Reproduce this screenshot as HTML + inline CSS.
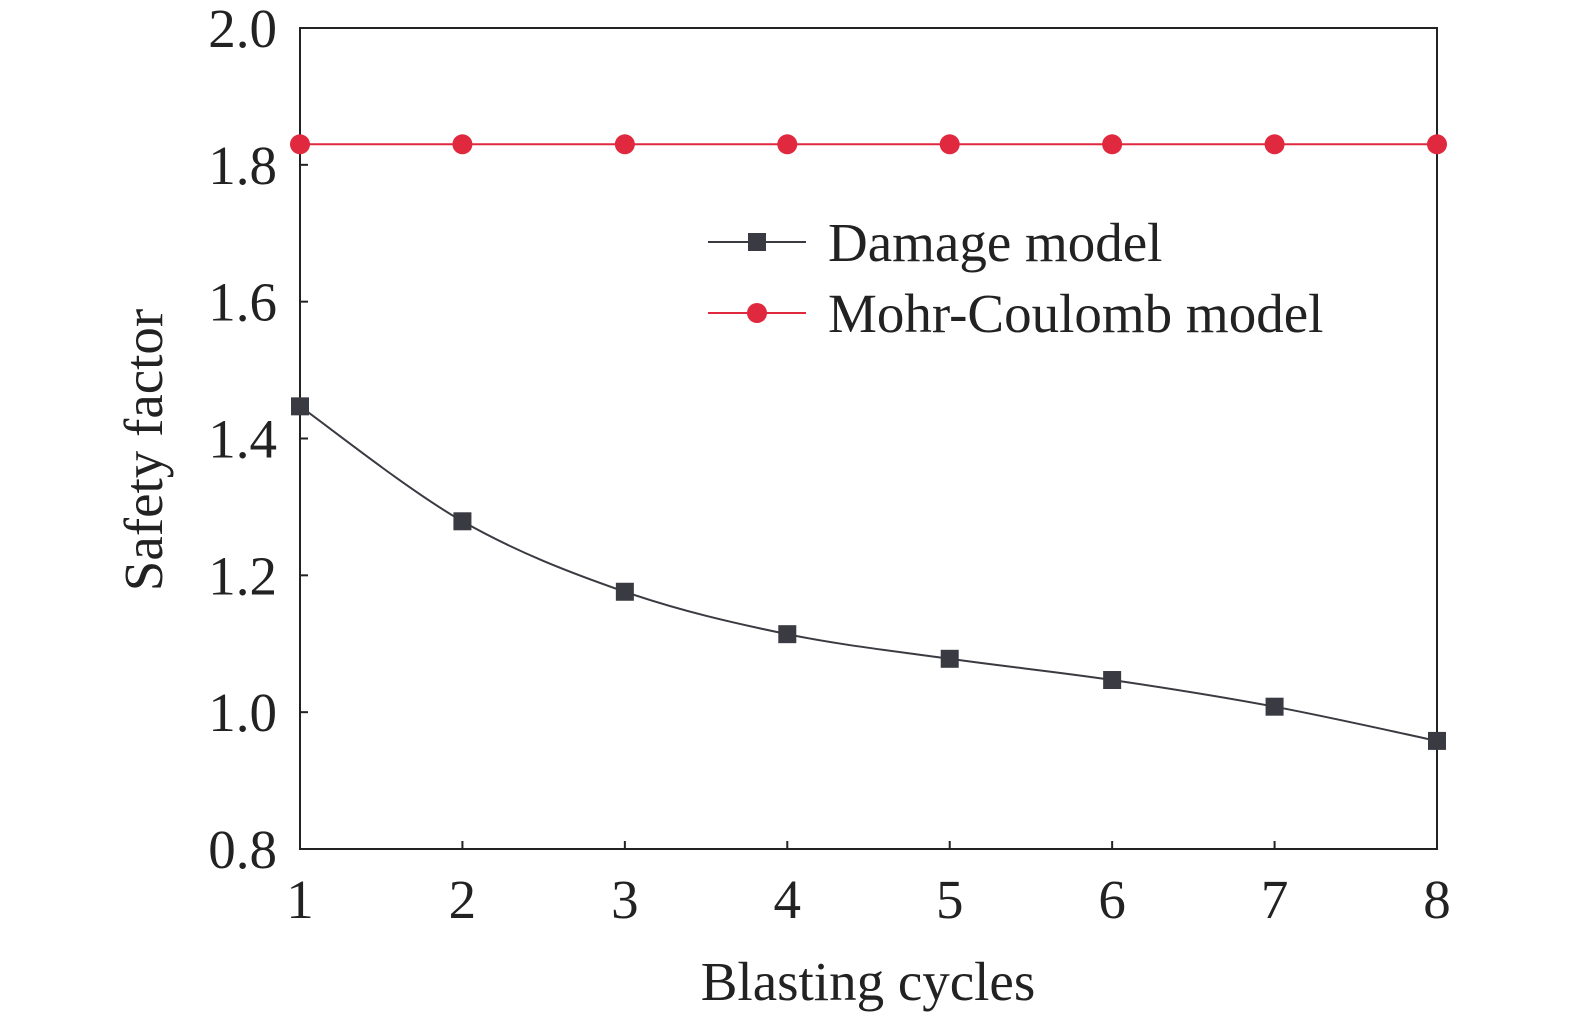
<!DOCTYPE html>
<html><head><meta charset="utf-8"><style>
body{margin:0;background:#fff}
svg{display:block;font-family:"Liberation Serif",serif}
</style></head><body>
<svg id="c" width="1575" height="1022"></svg>
<script>
const categories=[1,2,3,4,5,6,7,8];
const damageValues=[1.447,1.279,1.176,1.114,1.078,1.047,1.008,0.958];
const mcValues=[1.83,1.83,1.83,1.83,1.83,1.83,1.83,1.83];
const yTicks=[0.8,1.0,1.2,1.4,1.6,1.8,2.0];
const yTickLabels=["0.8","1.0","1.2","1.4","1.6","1.8","2.0"];

const L=300,R=1437,T=28,B=849;
const xs=v=>L+(v-1)/(8-1)*(R-L);
const ys=v=>B-(v-0.8)/(2.0-0.8)*(B-T);
const svg=document.getElementById('c');
const NS='http://www.w3.org/2000/svg';
function mk(t,a,p){const e=document.createElementNS(NS,t);for(const k in a)e.setAttribute(k,a[k]);(p||svg).appendChild(e);return e;}

const box=mk('rect',{x:L,y:T,width:R-L,height:B-T,fill:'none',stroke:'#222','stroke-width':2});



yTicks.forEach((v,i)=>{
  const y=ys(v);
  const t=mk('line',{x1:L,x2:L+8,y1:y,y2:y,stroke:'#222','stroke-width':2});
  
  
  const tx=mk('text',{x:277,y:y+19,'text-anchor':'end','font-size':55,fill:'#222'});
  tx.textContent=yTickLabels[i];
  
  
});
categories.forEach(c=>{
  const x=xs(c);
  const t=mk('line',{x1:x,x2:x,y1:B,y2:B-8,stroke:'#222','stroke-width':2});
  
  
  const tx=mk('text',{x:x,y:918,'text-anchor':'middle','font-size':55,fill:'#222'});
  tx.textContent=String(c);
  
  
});
const xt=mk('text',{x:868,y:1000,'text-anchor':'middle','font-size':55,fill:'#222'});
xt.textContent='Blasting cycles';


const yt=mk('text',{x:0,y:0,'text-anchor':'middle','font-size':55,fill:'#222',transform:'translate(162,450) rotate(-90)'});
yt.textContent='Safety factor';



function spline(pts){
  let d='M'+pts[0][0]+','+pts[0][1];
  for(let i=0;i<pts.length-1;i++){
    const p0=pts[i-1]||pts[i],p1=pts[i],p2=pts[i+1],p3=pts[i+2]||p2;
    const c1=[p1[0]+(p2[0]-p0[0])/6,p1[1]+(p2[1]-p0[1])/6];
    const c2=[p2[0]-(p3[0]-p1[0])/6,p2[1]-(p3[1]-p1[1])/6];
    d+=' C'+c1+' '+c2+' '+p2;
  }
  return d;
}
const dpts=categories.map((c,i)=>[xs(c),ys(damageValues[i])]);
const mpts=categories.map((c,i)=>[xs(c),ys(mcValues[i])]);
const ml=mk('path',{d:spline(mpts),fill:'none',stroke:'#e0283e','stroke-width':2});


mpts.forEach(p=>{
  const m=mk('circle',{cx:p[0],cy:p[1],r:10,fill:'#e0283e'});
  
  
});
const dl=mk('path',{d:spline(dpts),fill:'none',stroke:'#3a3b42','stroke-width':2});


dpts.forEach(p=>{
  const m=mk('rect',{x:p[0]-9,y:p[1]-9,width:18,height:18,fill:'#3a3b42'});
  
  
});

const lg=mk('g',{});


mk('line',{x1:708,x2:806,y1:242,y2:242,stroke:'#3a3b42','stroke-width':2},lg);
mk('rect',{x:748,y:233,width:18,height:18,fill:'#3a3b42'},lg);
const t1=mk('text',{x:828,y:261,'font-size':55,fill:'#222'},lg);
t1.textContent='Damage model';


mk('line',{x1:708,x2:806,y1:313,y2:313,stroke:'#e0283e','stroke-width':2},lg);
mk('circle',{cx:757,cy:313,r:10,fill:'#e0283e'},lg);
const t2=mk('text',{x:828,y:332,'font-size':55,fill:'#222'},lg);
t2.textContent='Mohr-Coulomb model';


</script>
</body></html>
